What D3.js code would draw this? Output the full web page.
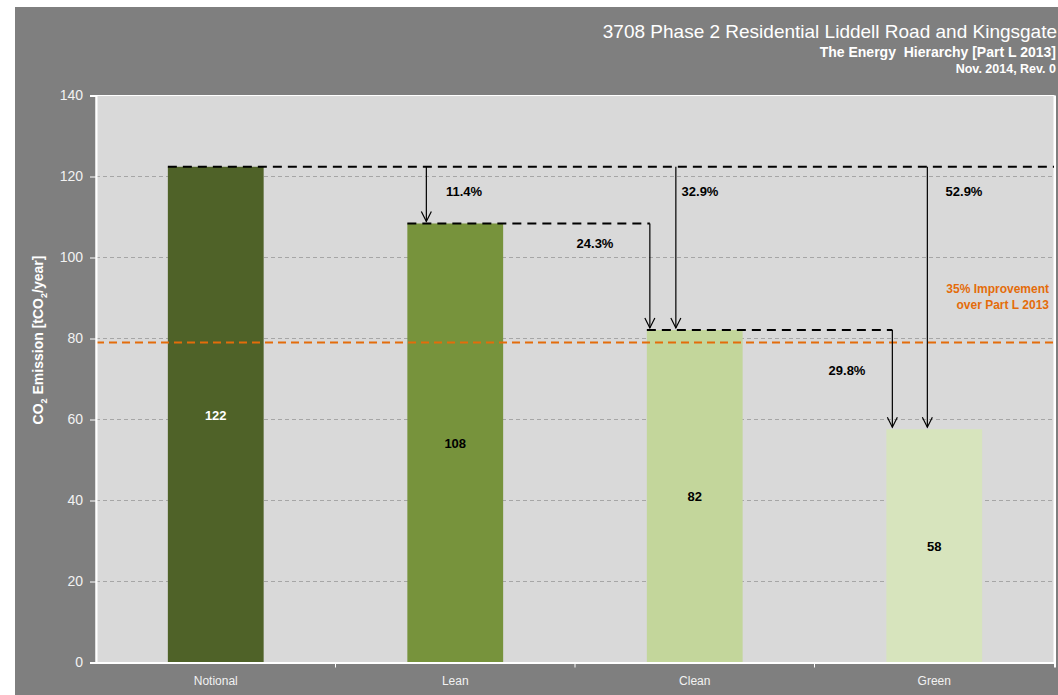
<!DOCTYPE html>
<html><head><meta charset="utf-8">
<script src="https://cdn.jsdelivr.net/npm/d3@7"></script>
<style>html,body{margin:0;padding:0;background:#fff;overflow:hidden}svg{display:block;font-family:"Liberation Sans",Arial,sans-serif}</style>
</head><body>
<svg id="c" width="1058" height="695"></svg>
<script>
const categories = ["Notional", "Lean", "Clean", "Green"];
const values = [122.4, 108.4, 82.1, 57.6];
const valueLabels = ["122", "108", "82", "58"];
const barColors = ["#4f6228", "#77933c", "#c3d69b", "#d7e4bd"];
const labelColors = ["#ffffff", "#000000", "#000000", "#000000"];
const yTicks = [0, 20, 40, 60, 80, 100, 120, 140];
const targetValue = 79;
const targetLabel = ["35% Improvement", "over Part L 2013"];
const reductions = [
  {from: 0, to: 1, text: "11.4%"},
  {from: 1, to: 2, text: "24.3%"},
  {from: 0, to: 2, text: "32.9%"},
  {from: 2, to: 3, text: "29.8%"},
  {from: 0, to: 3, text: "52.9%"}
];
const titleLines = ["3708 Phase 2 Residential Liddell Road and Kingsgate",
                    "The Energy\u00a0 Hierarchy [Part L 2013]",
                    "Nov. 2014, Rev. 0"];

const svg = d3.select("#c");
const W = 1058, H = 695;
const m = {l: 96, r: 1054, t: 95.5, b: 662.5};

svg.append("rect").attr("x", 15).attr("y", 7).attr("width", W - 15).attr("height", H - 7).attr("fill", "#7f7f7f");

const x = d3.scaleBand().domain(categories).range([m.l, m.r]).padding(0);
const y = d3.scaleLinear().domain([0, 140]).range([m.b, m.t]);
const bw = x.bandwidth() * 0.4;
const bx = c => x(c) + (x.bandwidth() - bw) / 2;

svg.append("rect").attr("x", m.l).attr("y", m.t).attr("width", m.r - m.l).attr("height", m.b - m.t)
  .attr("fill", "#d9d9d9").attr("stroke", "#ffffff").attr("stroke-width", 1);

// grid
svg.append("g").selectAll("line").data(yTicks.filter(d => d > 0 && d < 140)).join("line")
  .attr("x1", m.l).attr("x2", m.r).attr("y1", d => y(d)).attr("y2", d => y(d))
  .attr("stroke", "#a6a6a6").attr("stroke-width", 1).attr("stroke-dasharray", "4,3");

// bars
svg.append("g").selectAll("rect").data(categories).join("rect")
  .attr("x", d => bx(d)).attr("width", bw)
  .attr("y", (d, i) => y(values[i])).attr("height", (d, i) => y(0) - y(values[i]))
  .attr("fill", (d, i) => barColors[i]);

// value labels
svg.append("g").selectAll("text").data(categories).join("text")
  .attr("x", d => x(d) + x.bandwidth() / 2).attr("y", (d, i) => y(values[i] / 2) + 5)
  .attr("text-anchor", "middle").attr("font-size", 13).attr("font-weight", "bold")
  .attr("fill", (d, i) => labelColors[i]).text((d, i) => valueLabels[i]);

// target line
svg.append("line").attr("x1", m.l).attr("x2", m.r).attr("y1", y(targetValue)).attr("y2", y(targetValue))
  .attr("stroke", "#e46c0a").attr("stroke-width", 2).attr("stroke-dasharray", "8,5");
svg.append("g").selectAll("text").data(targetLabel).join("text")
  .attr("x", 1049).attr("y", (d, i) => y(targetValue) - 50 + i * 16)
  .attr("text-anchor", "end").attr("font-size", 12).attr("font-weight", "bold")
  .attr("fill", "#e46c0a").text(d => d);

// dashed level lines
const levels = [
  {i: 0, x2: m.r},
  {i: 1, x2: bx(categories[2]) + 3},
  {i: 2, x2: bx(categories[3]) + 6}
];
svg.append("g").selectAll("line").data(levels).join("line")
  .attr("x1", d => bx(categories[d.i])).attr("x2", d => d.x2)
  .attr("y1", d => y(values[d.i])).attr("y2", d => y(values[d.i]))
  .attr("stroke", "#000").attr("stroke-width", 2).attr("stroke-dasharray", "9,6");

// arrows
const arrowX = [bx(categories[1]) + 19, bx(categories[2]) + 3, bx(categories[2]) + 29, bx(categories[3]) + 6, bx(categories[3]) + 41];
const labelPos = [[464, 196], [595, 248], [700, 196], [847, 375], [964, 196]];
const ag = svg.append("g");
reductions.forEach((r, k) => {
  const ax = arrowX[k];
  const y1 = y(values[r.from]), y2 = y(values[r.to]) - 2;
  ag.append("line").attr("x1", ax).attr("x2", ax).attr("y1", y1).attr("y2", y2)
    .attr("stroke", "#000").attr("stroke-width", 1.2);
  ag.append("path").attr("d", `M${ax - 5},${y2 - 10} L${ax},${y2} L${ax + 5},${y2 - 10}`)
    .attr("fill", "none").attr("stroke", "#000").attr("stroke-width", 1.2);
  ag.append("text").attr("x", labelPos[k][0]).attr("y", labelPos[k][1]).attr("text-anchor", "middle")
    .attr("font-size", 13).attr("font-weight", "bold").attr("fill", "#000").text(r.text);
});

// axes
const yAxis = svg.append("g").attr("transform", `translate(${m.l},0)`)
  .call(d3.axisLeft(y).tickValues(yTicks).tickSize(6).tickPadding(7));
yAxis.select(".domain").attr("stroke", "#fff").attr("stroke-width", 2);
yAxis.selectAll(".tick line").attr("stroke", "#fff");
yAxis.selectAll(".tick text").attr("fill", "#f2f2f2").attr("font-size", 14).attr("font-family", "Liberation Sans, Arial, sans-serif");

const xAxis = svg.append("g").attr("transform", `translate(0,${m.b})`)
  .call(d3.axisBottom(x).tickSize(0).tickPadding(14));
xAxis.select(".domain").attr("stroke", "#fff").attr("stroke-width", 2);
xAxis.selectAll(".tick text").attr("fill", "#f2f2f2").attr("font-size", 12).attr("font-family", "Liberation Sans, Arial, sans-serif");
svg.append("g").selectAll("line").data(categories.slice(1)).join("line")
  .attr("x1", d => x(d)).attr("x2", d => x(d)).attr("y1", m.b).attr("y2", m.b + 5)
  .attr("stroke", "#fff").attr("stroke-width", 1);
svg.append("line").attr("x1", m.r + 1).attr("x2", m.r + 1).attr("y1", m.t).attr("y2", m.b + 5)
  .attr("stroke", "#fff").attr("stroke-width", 2);

// y label
const yl = svg.append("text").attr("transform", `translate(43,340) rotate(-90)`)
  .attr("text-anchor", "middle").attr("font-size", 14).attr("font-weight", "bold").attr("fill", "#fff");
yl.append("tspan").text("CO");
yl.append("tspan").attr("font-size", 9).attr("dy", 4).text("2");
yl.append("tspan").attr("dy", -4).text(" Emission [tCO");
yl.append("tspan").attr("font-size", 9).attr("dy", 4).text("2");
yl.append("tspan").attr("dy", -4).text("/year]");

// titles
svg.append("text").attr("x", 1057).attr("y", 38).attr("text-anchor", "end").attr("font-size", 19).attr("fill", "#fff").text(titleLines[0]);
svg.append("text").attr("x", 1056).attr("y", 57).attr("text-anchor", "end").attr("font-size", 14).attr("font-weight", "bold").attr("fill", "#fff").text(titleLines[1]);
svg.append("text").attr("x", 1056).attr("y", 73).attr("text-anchor", "end").attr("font-size", 12.5).attr("font-weight", "bold").attr("fill", "#fff").text(titleLines[2]);
</script>
</body></html>
